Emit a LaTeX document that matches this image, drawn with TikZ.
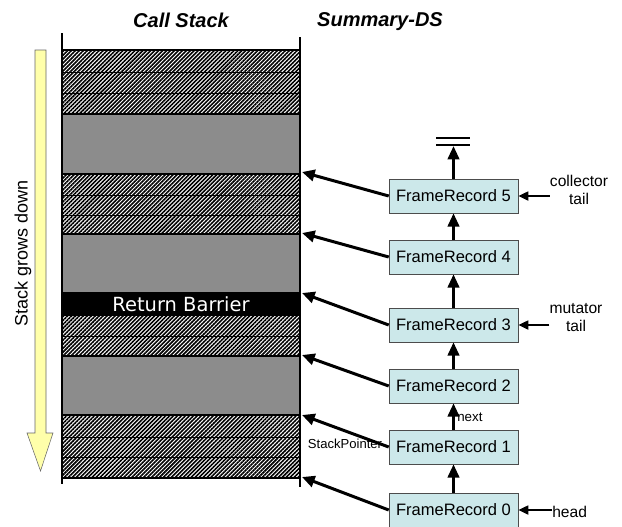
\documentclass[tikz,border=0pt]{standalone}
\usepackage{fontspec}
\setmainfont{Liberation Sans}
\newfontfamily\barrierfont{DejaVu Sans}
\usepackage{tikz}
\usetikzlibrary{arrows.meta, patterns.meta}
\definecolor{recordfill}{RGB}{204,232,234}
\definecolor{bandgray}{RGB}{140,140,140}
\definecolor{growyellow}{RGB}{255,255,170}
\tikzset{every picture/.style={x=0.75pt,y=-0.75pt},
  record/.style={draw=black!70, fill=recordfill, minimum width=96.75pt, minimum height=25.5pt, inner sep=0pt, font=\fontsize{12.4}{14}\selectfont},
  hatchband/.style={draw=black, line width=0.75pt, pattern={Lines[angle=45,distance=2.1pt,line width=1.2pt]}},
  grayband/.style={draw=black, line width=1.5pt, fill=bandgray},
  ptr/.style={-{Triangle[length=9.5pt,width=8.5pt]}, line width=2.25pt},
  nextptr/.style={-{Triangle[length=10pt,width=8.5pt]}, line width=2.25pt},
  tailptr/.style={-{Triangle[length=7.5pt,width=6.5pt]}, line width=2pt},
  sidetext/.style={inner sep=0pt, align=center, font=\fontsize{11.7}{13.5}\selectfont},
  header/.style={font=\fontsize{15}{18}\selectfont\bfseries\itshape}}

\begin{document}
\begin{tikzpicture}
        \useasboundingbox (0,0) rectangle (622,526);

        \node[header] (hcs) at (181,20) {Call Stack};
        \node[header] (hds) at (380,22) {Summary-DS};

        % stack frames
        \foreach \top/\bot in {50/72, 72/93, 93/114, 174/195, 195/215, 215/234,
          315/336, 336/356, 415/437, 437/457, 457/478}
        \draw[hatchband] (62,\top) rectangle (300,\bot);
        \foreach \top/\bot in {50/114, 174/234, 315/356, 415/478}
        \draw[line width=1.5pt] (62,\top) rectangle (300,\bot);
        \foreach \top/\bot in {114/174, 234/293, 356/415}
        \draw[grayband] (62,\top) rectangle (300,\bot);
        \fill (62,293) rectangle (300,315);
        \node[text=white, inner sep=0pt, font=\barrierfont\fontsize{14.6}{16}\selectfont] (rb) at (181,304) {Return Barrier};
        \draw[line width=1.5pt] (62,33) -- (62,484);
        \draw[line width=1.5pt] (300,37) -- (300,487);

        % growth direction
        \draw[draw=black!60, fill=growyellow] (35,50) -- (46,50) -- (46,433) -- (53,433)
          -- (40.5,471) -- (27,433) -- (35,433) -- cycle;
        \node[rotate=90, inner sep=0pt, font=\fontsize{13.5}{16}\selectfont] (grow) at (23,253.5) {Stack grows down};

        % summary records
        \foreach \i/\y in {0/510, 1/447, 2/386, 3/325, 4/257, 5/196}
        \node[record] (fr\i) at (453.5,\y) {FrameRecord \i};
        \foreach \i/\y in {0/477, 1/415, 2/355, 3/293, 4/233, 5/172}
        \coordinate (sp\i) at (302,\y);
        \coordinate (nil) at (453.5,146);

        \foreach \i in {0,...,5}
        \draw[ptr] (fr\i.west) -- (sp\i);
        \foreach \from/\to in {fr0/fr1, fr1/fr2, fr2/fr3, fr3/fr4, fr4/fr5, fr5/nil}
        \draw[nextptr] (\from) -- (\to);
        \draw[line width=1.5pt] (436,138) -- (470,138) (436,145) -- (470,145);

        \node[sidetext, anchor=west, font=\fontsize{10}{12}\selectfont] (nx) at (457,417) {next};
        \node[sidetext, font=\fontsize{9.8}{12}\selectfont] (spt) at (345,444) {StackPointer};
        \node[sidetext] (col) at (579,190) {collector\\tail};
        \node[sidetext] (mut) at (576,318) {mutator\\tail};
        \node[sidetext, anchor=west] (hd) at (552,512) {head};

        \draw[tailptr] (col.west |- fr5) -- (fr5.east);
        \draw[tailptr] (mut.west |- fr3) -- (fr3.east);
        \draw[tailptr] (hd.west |- fr0) -- (fr0.east);
      \end{tikzpicture}
\end{document}
